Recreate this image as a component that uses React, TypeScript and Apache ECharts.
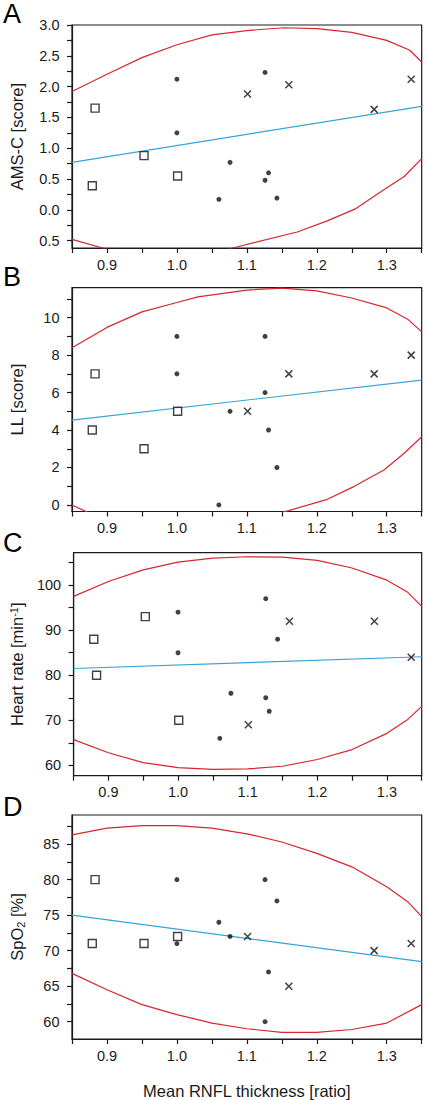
import React, { useEffect, useRef } from "react";
import * as echarts from "echarts";

// ---- shared x data (Mean RNFL thickness ratio) ----
const xTickValues = [0.85, 0.9, 0.95, 1.0, 1.05, 1.1, 1.15, 1.2, 1.25, 1.3, 1.35];
const xLabelValues = [0.9, 1.0, 1.1, 1.2, 1.3];
const squareX = [0.883, 0.879, 0.953, 1.001];
const dotX = [1.0, 1.0, 1.06, 1.076, 1.126, 1.126, 1.131, 1.143];
const crossX = [1.101, 1.16, 1.282, 1.335];
const fitX = [0.85, 1.35];

// ---- Panel A: AMS-C score ----
const amsSquares = [1.65, 0.39, 0.88, 0.55];
const amsDots = [2.12, 1.25, 0.17, 0.77, 2.23, 0.48, 0.6, 0.19];
const amsCrosses = [1.88, 2.03, 1.63, 2.12];
const amsFit = [0.77, 1.68];
const amsUpper = [[0.85, 1.92], [0.9, 2.2], [0.95, 2.47], [1.0, 2.68], [1.05, 2.84], [1.1, 2.91], [1.153, 2.955], [1.2, 2.94], [1.25, 2.88], [1.3, 2.75], [1.333, 2.59], [1.35, 2.4]];
const amsLower = [[0.85, -0.48], [0.9, -0.64], [0.95, -0.74], [1.0, -0.78], [1.05, -0.72], [1.08, -0.62], [1.172, -0.36], [1.215, -0.18], [1.256, 0.02], [1.291, 0.29], [1.325, 0.54], [1.35, 0.83]];
const amsTicks = [-0.5, -0.25, 0, 0.25, 0.5, 0.75, 1, 1.25, 1.5, 1.75, 2, 2.25, 2.5, 2.75, 3];
const amsLabels = [-0.5, 0, 0.5, 1, 1.5, 2, 2.5, 3];

// ---- Panel B: LL score ----
const llSquares = [7, 4, 3, 5];
const llDots = [9, 7, 0, 5, 9, 6, 4, 2];
const llCrosses = [5, 7, 7, 8];
const llFit = [4.53, 6.67];
const llUpper = [[0.85, 8.39], [0.9, 9.48], [0.95, 10.31], [1.0, 10.81], [1.03, 11.11], [1.1, 11.47], [1.15, 11.58], [1.2, 11.43], [1.25, 11.05], [1.3, 10.52], [1.33, 9.92], [1.35, 9.24]];
const llLower = [[0.85, 0.0], [0.87, -0.35], [0.9, -0.7], [1.0, -1.2], [1.1, -0.9], [1.16, -0.3], [1.215, 0.3], [1.253, 0.98], [1.296, 1.87], [1.325, 2.76], [1.35, 3.64]];
const llTicks = [0, 1, 2, 3, 4, 5, 6, 7, 8, 9, 10, 11];
const llLabels = [0, 2, 4, 6, 8, 10];

// ---- Panel C: Heart rate ----
const hrSquares = [80, 88, 93, 70];
const hrDots = [94, 85, 66, 76, 97, 75, 72, 88];
const hrCrosses = [69, 92, 92, 84];
const hrFit = [81.5, 84.1];
const hrUpper = [[0.85, 97.5], [0.9, 100.8], [0.95, 103.4], [1.0, 105.1], [1.05, 106.0], [1.1, 106.3], [1.15, 106.2], [1.2, 105.5], [1.25, 103.8], [1.3, 101.1], [1.33, 98.4], [1.35, 95.3]];
const hrLower = [[0.85, 65.7], [0.9, 62.8], [0.95, 60.6], [1.0, 59.5], [1.05, 59.1], [1.1, 59.2], [1.15, 59.8], [1.2, 61.3], [1.25, 63.5], [1.3, 67.1], [1.33, 70.2], [1.35, 73.1]];
const hrTicks = [60, 65, 70, 75, 80, 85, 90, 95, 100, 105];
const hrLabels = [60, 70, 80, 90, 100];

// ---- Panel D: SpO2 ----
const spoSquares = [80, 71, 71, 72];
const spoDots = [80, 71, 74, 72, 80, 60, 67, 77];
const spoCrosses = [72, 65, 70, 71];
const spoFit = [75.0, 68.45];
const spoUpper = [[0.85, 86.3], [0.9, 87.25], [0.95, 87.6], [1.0, 87.6], [1.05, 87.25], [1.1, 86.45], [1.15, 85.3], [1.2, 83.7], [1.25, 81.8], [1.3, 79.0], [1.33, 76.9], [1.35, 74.8]];
const spoLower = [[0.85, 66.8], [0.9, 64.5], [0.95, 62.4], [1.0, 61.0], [1.05, 59.8], [1.1, 59.0], [1.15, 58.5], [1.2, 58.5], [1.25, 58.9], [1.3, 59.8], [1.35, 62.4]];
const spoTicks = [60, 62.5, 65, 67.5, 70, 72.5, 75, 77.5, 80, 82.5, 85, 87.5];
const spoLabels = [60, 65, 70, 75, 80, 85];

const panelLetters = ["A", "B", "C", "D"];

const FONT = "Liberation Sans, Arial, Helvetica, sans-serif";
const RED = "#d7262e";
const BLUE = "#36a5d3";
const INK = "#1a1a1a";
const CROSS = "path://M0,0L10,10M10,0L0,10";

const zip = (xs: number[], ys: number[]) => xs.map((x, i) => [x, ys[i]]);

export default function App() {
  const ref = useRef<HTMLDivElement>(null);
  useEffect(() => {
    document.body.style.margin = "0";
    if (!ref.current) return;
    const chart = echarts.init(ref.current, undefined, { renderer: "svg" });

    const panels = [
      { top: 25, height: 223, min: -0.62, max: 3.0, ticks: amsTicks, labels: amsLabels, fmt: (v: number) => Math.abs(v).toFixed(1), name: "AMS-C [score]", sq: amsSquares, dt: amsDots, cr: amsCrosses, fit: amsFit, up: amsUpper, lo: amsLower },
      { top: 287.7, height: 223.8, min: -0.35, max: 11.6, ticks: llTicks, labels: llLabels, fmt: (v: number) => String(v), name: "LL [score]", sq: llSquares, dt: llDots, cr: llCrosses, fit: llFit, up: llUpper, lo: llLower },
      { top: 552.7, height: 223, min: 57.7, max: 107.2, ticks: hrTicks, labels: hrLabels, fmt: (v: number) => String(v), name: "{a|Heart rate [min}{s|-1}{a|]}", sq: hrSquares, dt: hrDots, cr: hrCrosses, fit: hrFit, up: hrUpper, lo: hrLower },
      { top: 815, height: 224.3, min: 57.56, max: 89.1, ticks: spoTicks, labels: spoLabels, fmt: (v: number) => String(v), name: "{a|SpO}{b|2}{a| [%]}", sq: spoSquares, dt: spoDots, cr: spoCrosses, fit: spoFit, up: spoUpper, lo: spoLower },
    ];

    const grid = panels.map((p) => ({
      left: 71,
      top: p.top,
      width: 350.7,
      height: p.height,
      show: true,
      borderColor: INK,
      borderWidth: 1.2,
      backgroundColor: "transparent",
      containLabel: false,
    }));

    const xAxis = panels.map((p, i) => ({
      type: "value",
      gridIndex: i,
      min: 0.85,
      max: 1.35,
      splitLine: { show: false },
      axisLine: { show: true, onZero: false, lineStyle: { color: INK, width: 1.2 } },
      axisTick: { show: true, length: 5, customValues: xTickValues, lineStyle: { color: INK, width: 1.2 } },
      axisLabel: { show: true, customValues: xLabelValues, formatter: (v: number) => v.toFixed(1), color: INK, fontSize: 14.5, fontFamily: FONT, margin: 9 },
      name: i === 3 ? "Mean RNFL thickness [ratio]" : "",
      nameLocation: "middle",
      nameGap: 43,
      nameTextStyle: { fontSize: 16.5, fontFamily: FONT, color: INK },
    }));

    const yAxis = panels.map((p, i) => ({
      type: "value",
      gridIndex: i,
      min: p.min,
      max: p.max,
      splitLine: { show: false },
      axisLine: { show: true, onZero: false, lineStyle: { color: INK, width: 1.2 } },
      axisTick: { show: true, length: 5, customValues: p.ticks, lineStyle: { color: INK, width: 1.2 } },
      axisLabel: { show: true, customValues: p.labels, formatter: p.fmt, color: INK, fontSize: 14.5, fontFamily: FONT, margin: 12.5 },
      name: p.name,
      nameLocation: "middle",
      nameRotate: 90,
      nameGap: 46,
      nameTextStyle: {
        fontSize: 16.5,
        fontFamily: FONT,
        color: INK,
        lineHeight: 18,
        rich: {
          a: { fontSize: 16.5, fontFamily: FONT, color: INK, lineHeight: 18 },
          s: { fontSize: 11, fontFamily: FONT, color: INK, lineHeight: 10, verticalAlign: "top" },
          b: { fontSize: 11, fontFamily: FONT, color: INK, lineHeight: 10, verticalAlign: "bottom" },
        },
      },
    }));

    const series: any[] = [];
    panels.forEach((p, i) => {
      const base = { xAxisIndex: i, yAxisIndex: i };
      series.push({ ...base, type: "line", data: p.up, symbol: "none", clip: true, lineStyle: { color: RED, width: 1.2 }, z: 2 });
      series.push({ ...base, type: "line", data: p.lo, symbol: "none", clip: true, lineStyle: { color: RED, width: 1.2 }, z: 2 });
      series.push({ ...base, type: "line", data: zip(fitX, p.fit), symbol: "none", clip: true, lineStyle: { color: BLUE, width: 1.2 }, z: 3 });
      series.push({ ...base, type: "scatter", data: zip(squareX, p.sq), symbol: "rect", symbolSize: 8, itemStyle: { color: "#fff", borderColor: "#111", borderWidth: 1.4 }, z: 5 });
      series.push({ ...base, type: "scatter", data: zip(dotX, p.dt), symbol: "circle", symbolSize: 5, itemStyle: { color: "#111" }, z: 5 });
      series.push({ ...base, type: "scatter", data: zip(crossX, p.cr), symbol: CROSS, symbolSize: 7, itemStyle: { color: "none", borderColor: "#111", borderWidth: 1.5 }, z: 5 });
    });

    const letterY = [14, 276.5, 542.5, 807];
    const graphic = panelLetters.map((t, i) => ({
      type: "text",
      x: 3,
      y: letterY[i],
      style: { text: t, font: `27px ${FONT}`, fill: "#000", textAlign: "left", verticalAlign: "middle" },
    }));

    chart.setOption({
      animation: false,
      backgroundColor: "#fff",
      grid,
      xAxis,
      yAxis,
      series,
      graphic,
    });
    return () => chart.dispose();
  }, []);

  return <div ref={ref} style={{ width: 427, height: 1100, position: "absolute", left: 0, top: 0 }} />;
}
